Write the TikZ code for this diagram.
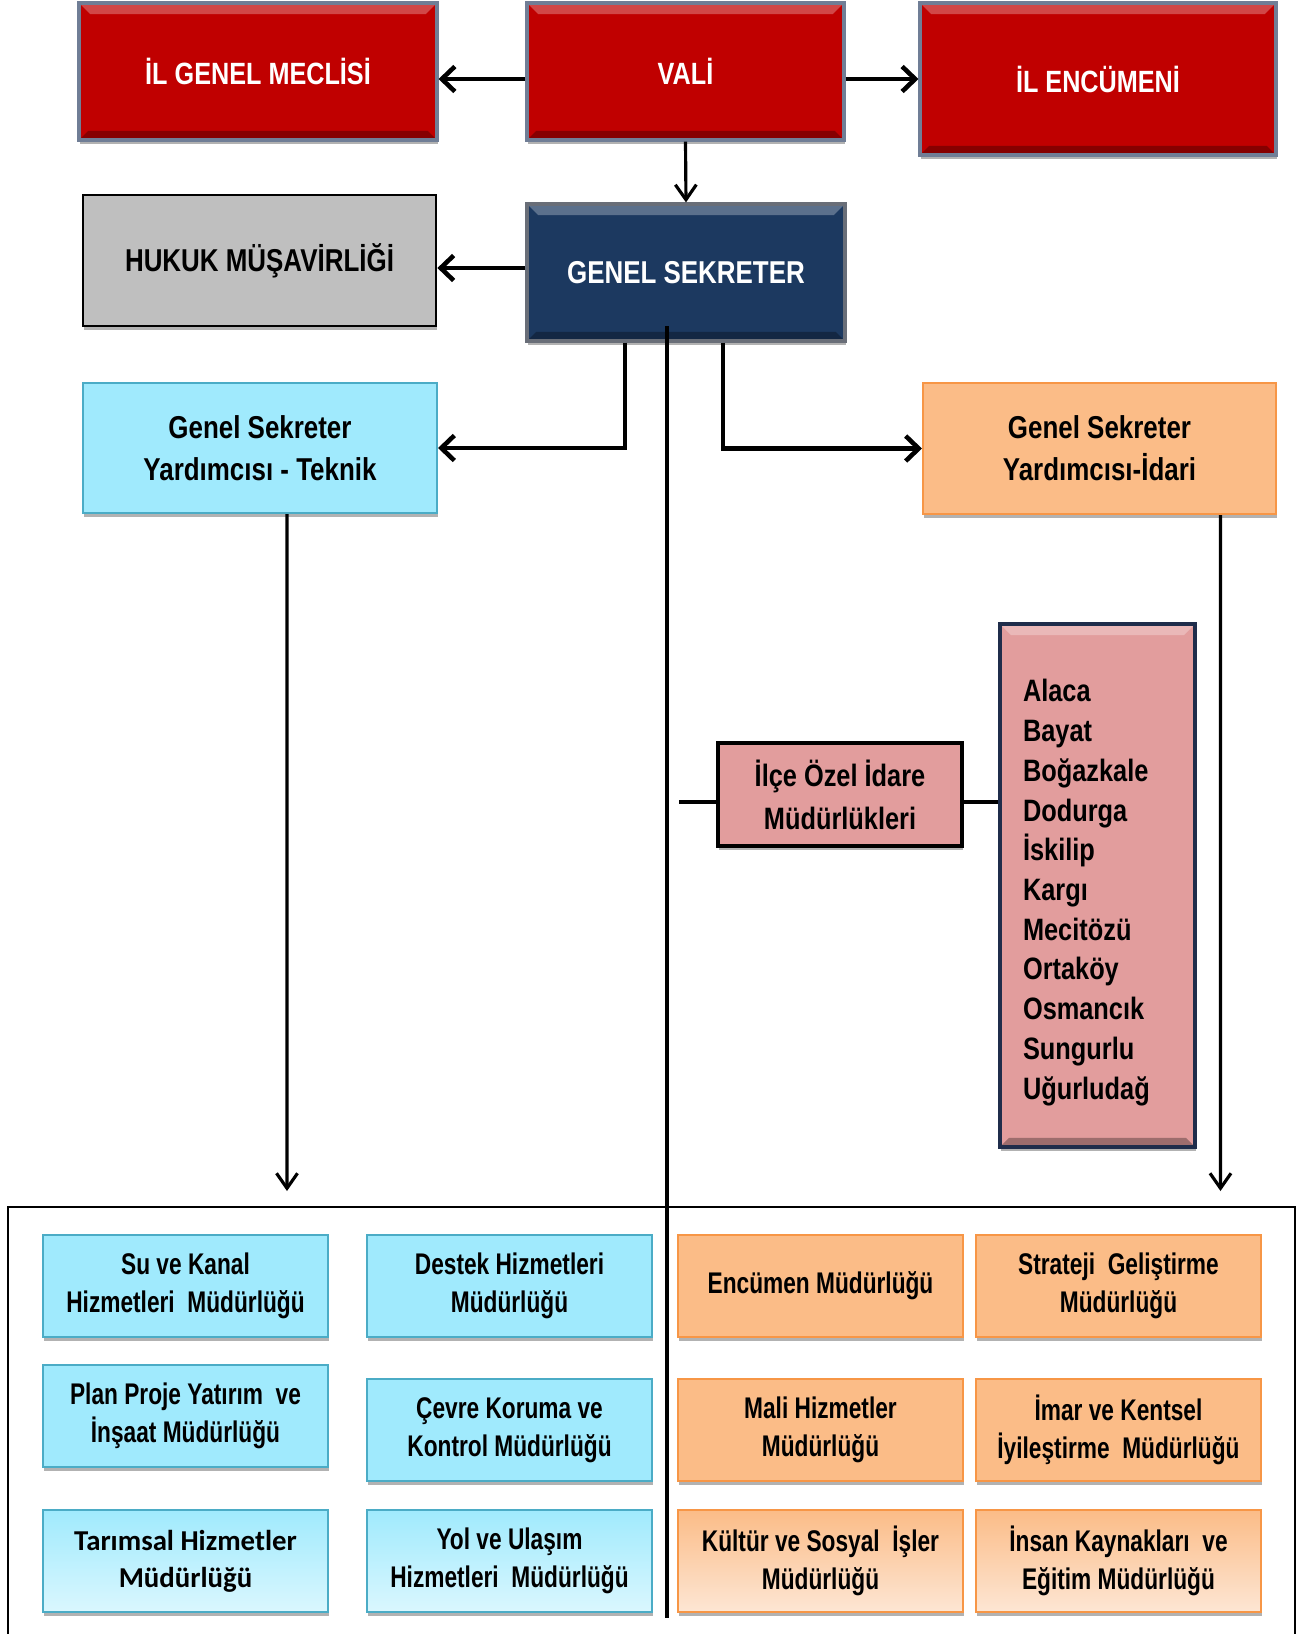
\documentclass[tikz,border=0pt]{standalone}
\usepackage{fontspec}
\setmainfont{Liberation Sans}
\newfontfamily\narrowfont{Liberation Sans}[FakeStretch=0.82]
\newfontfamily\narrowerfont{Liberation Sans}[FakeStretch=0.76]
\newfontfamily\calfont{Carlito}
\usetikzlibrary{arrows.meta,shadows}

\definecolor{redfill}{RGB}{192,0,0}
\definecolor{redline}{RGB}{112,126,150}
\definecolor{navyfill}{RGB}{28,57,96}
\definecolor{navyline}{RGB}{105,110,120}
\definecolor{grayfill}{RGB}{191,191,191}
\definecolor{cyanfill}{RGB}{160,234,253}
\definecolor{cyanlight}{RGB}{218,247,254}
\definecolor{cyanline}{RGB}{75,172,198}
\definecolor{orangefill}{RGB}{251,188,135}
\definecolor{orangelight}{RGB}{253,230,212}
\definecolor{orangeline}{RGB}{247,150,70}
\definecolor{pinkfill}{RGB}{226,157,157}
\definecolor{distline}{RGB}{31,45,75}

\begin{document}
\begin{tikzpicture}[
    x=0.02cm, y=-0.02cm,
    box/.style={inner sep=2pt, align=center,
      drop shadow={shadow xshift=0.8pt, shadow yshift=-2.5pt, opacity=0.3, fill=black}},
    bevel/.style={path picture={
      \fill[white, opacity=0.28] (path picture bounding box.north west) -- (path picture bounding box.north east)
        -- ([shift={(-0.22cm,-0.22cm)}]path picture bounding box.north east) -- ([shift={(0.22cm,-0.22cm)}]path picture bounding box.north west) -- cycle;
      \fill[black, opacity=0.3] (path picture bounding box.south west) -- (path picture bounding box.south east)
        -- ([shift={(-0.18cm,0.18cm)}]path picture bounding box.south east) -- ([shift={(0.18cm,0.18cm)}]path picture bounding box.south west) -- cycle;}},
    headfont/.style={font=\narrowfont\bfseries\fontsize{18}{23.7}\selectfont},
    redbox/.style={box, bevel, fill=redfill, draw=redline, line width=1.8pt, text=white,
      font=\narrowfont\bfseries\fontsize{17.5}{22}\selectfont},
    navybox/.style={box, bevel, fill=navyfill, draw=navyline, line width=1.8pt, text=white, headfont},
    graybox/.style={box, fill=grayfill, draw=black, line width=1.6pt, headfont},
    cyanbox/.style={box, fill=cyanfill, draw=cyanline, line width=1.2pt,
      minimum width=5.7cm, minimum height=2.04cm, font=\narrowerfont\bfseries\fontsize{17}{21.5}\selectfont},
    orangebox/.style={cyanbox, fill=orangefill, draw=orangeline},
    cyanfade/.style={cyanbox, top color=cyanfill, bottom color=cyanlight},
    orangefade/.style={orangebox, top color=orangefill, bottom color=orangelight},
    pinkbox/.style={box, fill=pinkfill, draw=black, line width=2.2pt,
      font=\narrowfont\bfseries\fontsize{17.6}{24.5}\selectfont},
    distbox/.style={box, bevel, fill=pinkfill, draw=distline, line width=2.2pt,
      font=\narrowfont\bfseries\fontsize{17.6}{22.6}\selectfont},
    bigarrow/.style={-{Straight Barb[length=0.26cm,width=0.5cm]}, line width=2.6pt},
    thinarrow/.style={-{Straight Barb[length=0.3cm,width=0.42cm]}, line width=1.8pt},
    link/.style={line width=2.6pt}
  ]
  \useasboundingbox (0,0) rectangle (1302,1634);

  \coordinate (meclisp) at (258,71.5);
  \coordinate (valip) at (685.5,71.5);
  \coordinate (encumenp) at (1098,79);

  \coordinate (hukukp) at (259.5,260.5);
  \coordinate (gsp) at (686,272.5);

  \coordinate (teknikp) at (260,448);
  \coordinate (idarip) at (1099.5,448.5);

  \coordinate (ilcep) at (840,794.5);
  \coordinate (ilcelerp) at (1097.5,885.5);

  \coordinate (b11p) at (185.5,1286);
  \coordinate (b12p) at (509.5,1286);
  \coordinate (b13p) at (820.5,1286);
  \coordinate (b14p) at (1118.5,1286);

  \coordinate (b21p) at (185.5,1416);
  \coordinate (b22p) at (509.5,1430);
  \coordinate (b23p) at (820.5,1430);
  \coordinate (b24p) at (1118.5,1430);

  \coordinate (b31p) at (185.5,1561);
  \coordinate (b32p) at (509.5,1561);
  \coordinate (b33p) at (820.5,1561);
  \coordinate (b34p) at (1118.5,1561);

  % Top level
  \node[redbox, minimum width=7.16cm, minimum height=2.74cm] (meclis) at (meclisp) {İL GENEL MECLİSİ};
  \node[redbox, minimum width=6.34cm, minimum height=2.74cm] (vali) at (valip) {VALİ};
  \node[redbox, minimum width=7.12cm, minimum height=3.04cm] (encumen) at (encumenp) {İL ENCÜMENİ};

  \node[graybox, minimum width=7.06cm, minimum height=2.62cm] (hukuk) at (hukukp) {HUKUK MÜŞAVİRLİĞİ};
  \node[navybox, minimum width=6.36cm, minimum height=2.74cm] (gs) at (gsp) {GENEL SEKRETER};

  \node[box, headfont, fill=cyanfill, draw=cyanline, line width=1.2pt, minimum width=7.08cm, minimum height=2.6cm] (teknik) at (teknikp) {Genel Sekreter\\Yardımcısı - Teknik};
  \node[box, headfont, fill=orangefill, draw=orangeline, line width=1.2pt, minimum width=7.06cm, minimum height=2.62cm] (idari) at (idarip) {Genel Sekreter\\Yardımcısı-İdari};

  % Districts
  \node[pinkbox, minimum width=4.88cm, minimum height=2.06cm] (ilce) at (ilcep) {İlçe Özel İdare\\Müdürlükleri};
  \node[distbox, minimum height=10.46cm, text width=2.98cm, inner xsep=0.46cm, align=left] (ilceler) at (ilcelerp)
    {\rule{0pt}{20.8pt}Alaca\\Bayat\\Boğazkale\\Dodurga\\İskilip\\Kargı\\Mecitözü\\Ortaköy\\Osmancık\\Sungurlu\\Uğurludağ};

  % Directorates
  \node[cyanbox] (b11) at (b11p) {Su ve Kanal\\Hizmetleri\ \ Müdürlüğü};
  \node[cyanbox] (b12) at (b12p) {Destek Hizmetleri\\Müdürlüğü};
  \node[orangebox] (b13) at (b13p) {Encümen Müdürlüğü};
  \node[orangebox] (b14) at (b14p) {Strateji\ \ Geliştirme\\Müdürlüğü};

  \node[cyanbox] (b21) at (b21p) {Plan Proje Yatırım\ \ ve\\İnşaat Müdürlüğü};
  \node[cyanbox] (b22) at (b22p) {Çevre Koruma ve\\Kontrol Müdürlüğü};
  \node[orangebox] (b23) at (b23p) {Mali Hizmetler\\Müdürlüğü};
  \node[orangebox] (b24) at (b24p) {İmar ve Kentsel\\İyileştirme\ \ Müdürlüğü};

  \node[cyanfade, font=\calfont\bfseries\fontsize{16.4}{21}\selectfont] (b31) at (b31p) {Tarımsal Hizmetler\\Müdürlüğü};
  \node[cyanfade] (b32) at (b32p) {Yol ve Ulaşım\\Hizmetleri\ \ Müdürlüğü};
  \node[orangefade] (b33) at (b33p) {Kültür ve Sosyal\ \ İşler\\Müdürlüğü};
  \node[orangefade] (b34) at (b34p) {İnsan Kaynakları\ \ ve\\Eğitim Müdürlüğü};

  \coordinate (tekend) at (287,1191);
  \coordinate (idaend) at (1220.5,1191);
  \coordinate (ctop) at (667,326);
  \coordinate (cbot) at (667,1618);
  \coordinate (istub) at (679,802);

  % Connections
  \draw[bigarrow] (vali.west |- 0,79) -- (meclis.east |- 0,79);
  \draw[bigarrow] (vali.east |- 0,79) -- (encumen.west |- 0,79);
  \draw[thinarrow] (vali.south) -- (gs.north);
  \draw[bigarrow] (gs.west |- 0,268) -- (hukuk.east |- 0,268);
  \draw[bigarrow] ([xshift=-1.22cm]gs.south) |- (teknik.east);
  \draw[bigarrow] ([xshift=0.74cm]gs.south) |- (idari.west);
  \draw[thinarrow] ([xshift=0.54cm]teknik.south) -- (tekend);
  \draw[thinarrow] ([xshift=2.42cm]idari.south) -- (idaend);
  \draw[link] (ctop) -- (cbot);
  \draw[link] (istub) -- (ilce.west |- istub);
  \draw[link] (ilce.east |- istub) -- (ilceler.west |- istub);

  % Frame
  \draw[line width=1.2pt] (8,1640) |- (1295,1207) -- (1295,1640);

\end{tikzpicture}
\end{document}
